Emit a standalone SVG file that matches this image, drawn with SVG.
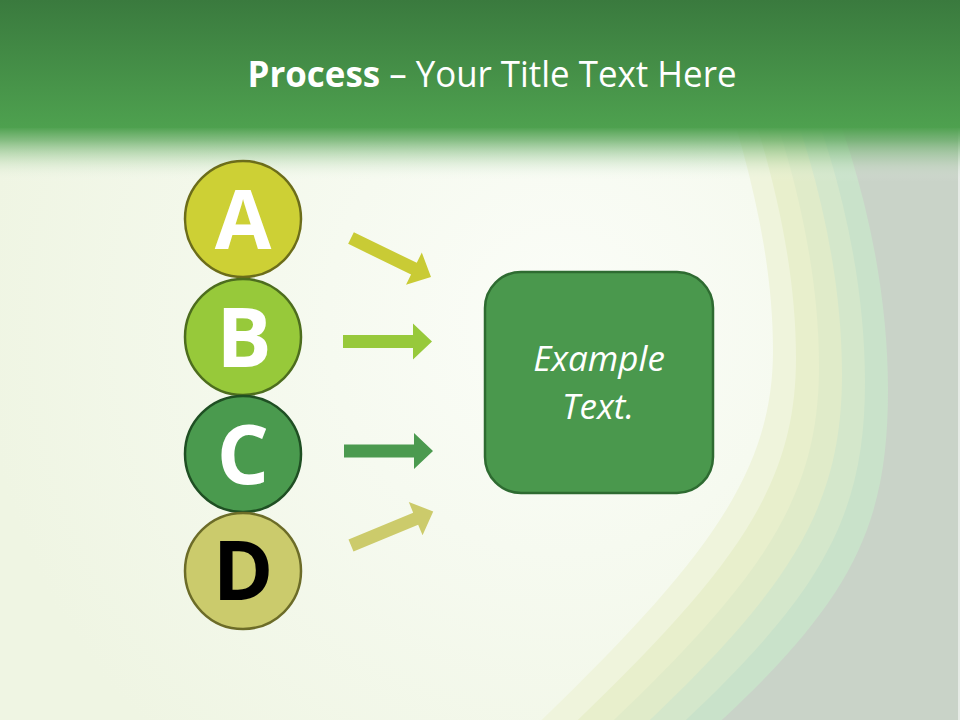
<svg xmlns="http://www.w3.org/2000/svg" width="960" height="720" viewBox="0 0 960 720">
  <defs>
    <linearGradient id="hdr" x1="0" y1="0" x2="0" y2="1">
      <stop offset="0" stop-color="#3a7a3e"/>
      <stop offset="1" stop-color="#4ea14f"/>
    </linearGradient>
    <linearGradient id="fade" x1="0" y1="0" x2="0" y2="1">
      <stop offset="0" stop-color="#4ea14f" stop-opacity="1"/>
      <stop offset="0.25" stop-color="#5aa65a" stop-opacity="0.7"/>
      <stop offset="0.6" stop-color="#8cc28a" stop-opacity="0.3"/>
      <stop offset="1" stop-color="#ffffff" stop-opacity="0"/>
    </linearGradient>
    <radialGradient id="inner" cx="560" cy="320" r="580" gradientUnits="userSpaceOnUse">
      <stop offset="0" stop-color="#fbfdf8"/>
      <stop offset="0.4" stop-color="#f6faf0"/>
      <stop offset="1" stop-color="#eff5e3"/>
    </radialGradient>
    <polygon id="arr" points="0,-6.5 70,-6.5 70,-18 89,0 70,18 70,6.5 0,6.5"/>
  </defs>
  <style>
    .circ { stroke-width: 2.5; }
    .let { font-family: "Open Sans", "Liberation Sans", sans-serif; font-weight: bold; font-size: 82px; text-anchor: middle; }
    .ex { font-family: "Open Sans", "Liberation Sans", sans-serif; font-style: italic; font-size: 35px; fill: #ffffff; text-anchor: middle; }
  </style>

  <!-- background -->
  <rect x="0" y="0" width="960" height="720" fill="#c9d3c8"/>
  <path fill="#c9e2ca" d="M 800 -120 L 815 60 C 860 160 888 280 888 390 C 888 530 850 605 700 740 L 560 900 L -400 900 L -400 -120 Z"/>
  <path fill="#d4e7cb" d="M 780 -120 L 795 60 C 837 158 865 274 865 382 C 865 520 820 598 660 744 L 516 900 L -400 900 L -400 -120 Z"/>
  <path fill="#e0ebc9" d="M 760 -120 L 775 60 C 814 156 842 268 842 374 C 842 510 790 591 620 748 L 472 900 L -400 900 L -400 -120 Z"/>
  <path fill="#e8efcc" d="M 740 -120 L 755 60 C 791 154 819 262 819 366 C 819 502 760 584 580 752 L 428 900 L -400 900 L -400 -120 Z"/>
  <path fill="#eff4dc" d="M 720 -120 L 735 60 C 768 152 796 256 796 358 C 796 492 730 577 540 756 L 384 900 L -400 900 L -400 -120 Z"/>
  <path fill="url(#inner)" d="M 700 -120 L 715 60 C 745 150 773 250 773 350 C 773 480 700 570 500 760 L 340 900 L -400 900 L -400 -120 Z"/>
  <rect x="958" y="0" width="2" height="720" fill="#e6ebe6"/>
  <rect x="0" y="0" width="960" height="128" fill="url(#hdr)"/>
  <rect x="0" y="127" width="960" height="55" fill="url(#fade)"/>

  <!-- title -->
  <text x="492" y="87" fill="#ffffff" font-family="Open Sans, Liberation Sans, sans-serif" font-size="36" text-anchor="middle" textLength="489" lengthAdjust="spacingAndGlyphs"><tspan font-weight="bold">Process</tspan> – Your Title Text Here</text>

  <!-- connectors -->
  <g id="connectors">
    <use href="#arr" fill="#c9cb35" transform="translate(351,238) rotate(26)"/>
    <use href="#arr" fill="#97c93b" transform="translate(343,341.5)"/>
    <use href="#arr" fill="#4b9a4f" transform="translate(344,451)"/>
    <use href="#arr" fill="#cccb6b" transform="translate(351,545.5) rotate(-22.5)"/>
  </g>

  <!-- nodes -->
  <g id="node-A">
    <circle class="circ" cx="243" cy="219" r="58" fill="#cdd035" stroke="#6c6d1a"/>
    <text class="let" x="243" y="249" fill="#ffffff">A</text>
  </g>
  <g id="node-B">
    <circle class="circ" cx="243" cy="337" r="58" fill="#97c93a" stroke="#4d6d1e"/>
    <text class="let" x="244" y="367" fill="#ffffff">B</text>
  </g>
  <g id="node-C">
    <circle class="circ" cx="243" cy="454" r="58" fill="#4a9a4e" stroke="#1f4f23"/>
    <text class="let" x="243" y="484" fill="#ffffff">C</text>
  </g>
  <g id="node-D">
    <circle class="circ" cx="243" cy="571" r="58" fill="#cbcb6c" stroke="#6c6c28"/>
    <text class="let" x="243" y="600" fill="#000000">D</text>
  </g>
  <g id="node-box">
    <rect x="485" y="272" width="228" height="221" rx="36" ry="36" fill="#4a984d" stroke="#2e6b31" stroke-width="2.5"/>
    <text class="ex" x="599" y="371">Example</text>
    <text class="ex" x="598" y="419">Text.</text>
  </g>
</svg>
